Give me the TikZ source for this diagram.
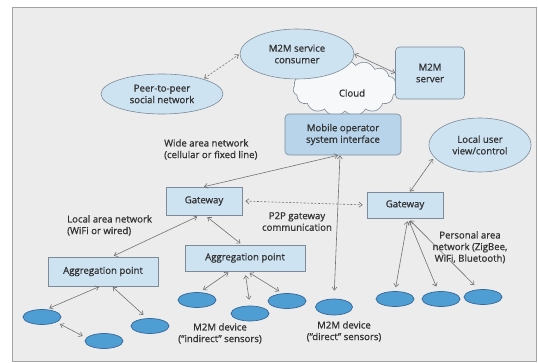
\documentclass[tikz,border=0pt]{standalone}
\usepackage{fontspec}
\setmainfont{Open Sans}[BoldFont={Open Sans}, BoldFeatures={FakeBold=0.9}]
\usetikzlibrary{arrows.meta,shapes.geometric,shapes.symbols}
\definecolor{bgpanel}{HTML}{ECECEC}
\definecolor{panelrule}{HTML}{A3A3A3}
\definecolor{boxfill}{HTML}{CDE3F2}
\definecolor{mobfill}{HTML}{B7D4EA}
\definecolor{boxrule}{HTML}{7D8B98}
\definecolor{devfill}{HTML}{4E9DD3}
\definecolor{devrule}{HTML}{35699A}
\definecolor{linkgray}{HTML}{727272}
\definecolor{txt}{HTML}{333333}
\definecolor{cloudfill}{HTML}{F6F8FA}
\tikzset{
  every node/.style={text=txt, font=\fontsize{9.6}{11.6}\selectfont\bfseries},
  sqbox/.style={rectangle, draw=boxrule, fill=boxfill, line width=0.6pt, inner sep=0pt},
  rbox/.style={sqbox, rounded corners=4pt},
  oval/.style={ellipse, draw=boxrule, fill=boxfill, line width=0.6pt, inner sep=0pt, align=center},
  device/.style={ellipse, draw=devrule, fill=devfill, line width=0.7pt, inner sep=0pt,
                 minimum width=38pt, minimum height=15pt},
  caption/.style={align=left, inner sep=0pt},
  tip/.tip={Straight Barb[length=3.2pt,width=5pt]},
  link/.style={draw=linkgray, line width=0.6pt, tip-tip},
  p2plink/.style={link, dash pattern=on 2pt off 1.6pt},
}
\begin{document}
\begin{tikzpicture}[x=1pt,y=-1pt]
\useasboundingbox (0,0) rectangle (538,363);
% panel
\draw[fill=bgpanel, draw=panelrule, line width=0.7pt] (12,7) rectangle (536,361);

% cloud behind the service side
\node[cloud, cloud puffs=15, cloud puff arc=110, aspect=2, draw=boxrule, fill=cloudfill,
      line width=0.6pt, minimum width=104pt, minimum height=56pt, inner sep=0pt] (cloud) at (345,88) {};
\node at (352,93) {Cloud};

% service side
\node[oval, minimum width=122pt, minimum height=40pt] (peer) at (162,94) {Peer-to-peer\\social network};
\node[oval, minimum width=114pt, minimum height=50pt] (consumer) at (297,54) {M2M service\\consumer};
\node[rbox, minimum width=69pt, minimum height=52pt, align=center] (server) at (430,73) {M2M\\server};
\node[rbox, fill=mobfill, minimum width=116pt, minimum height=41pt, align=center] (mob) at (343,134.5) {Mobile operator\\system interface};
\node[oval, minimum width=102pt, minimum height=54pt] (local) at (480,145) {Local user\\view/control};

% gateways and aggregation points
\node[sqbox, minimum width=76pt, minimum height=28pt] (gwL) at (204,201) {Gateway};
\node[sqbox, minimum width=76pt, minimum height=26pt] (gwR) at (405,205) {Gateway};
\node[sqbox, minimum width=110pt, minimum height=29pt] (aggL) at (103,271.5) {Aggregation point};
\node[sqbox, minimum width=120pt, minimum height=26pt] (aggM) at (245,258) {Aggregation point};

% devices
\node[device] (l1) at (42,317) {};
\node[device] (l2) at (104,341) {};
\node[device] (l3) at (150,326) {};
\node[device] (m1) at (197,300) {};
\node[device] (m2) at (250,313.5) {};
\node[device] (m3) at (287,301) {};
\node[device, minimum width=37pt, minimum height=16pt] (direct) at (334,307) {};
\node[device] (r1) at (395,299) {};
\node[device] (r2) at (441,299) {};
\node[device] (r3) at (483,297) {};

% captions
\node[caption, anchor=north west] (wan) at (164,139) {Wide area network\\(cellular or fixed line)};
\node[caption, anchor=north west] (lan) at (67,215) {Local area network\\(WiFi or wired)};
\node[caption, align=center, anchor=north] (p2p) at (297,212) {P2P gateway\\communication};
\node[caption, align=center, anchor=north] (pan) at (470,231) {Personal area\\network (ZigBee,\\WiFi, Bluetooth)};
\node[caption, align=center, anchor=north] (indirect) at (220,323) {M2M device\\(``indirect'' sensors)};
\node[caption, align=center, anchor=north] (directcap) at (344,321) {M2M device\\(``direct'' sensors)};

% connectors
\draw[p2plink, shorten <=1pt, shorten >=1pt] (peer.20) -- (consumer.west);
\draw[link] (consumer.east) -- (server.west);
\draw[link] ([xshift=-5pt]mob.south) -- (gwL.north);
\draw[link, shorten >=8pt] ([xshift=-3pt]mob.south) -- (direct.north);
\draw[link, shorten >=2pt] ([xshift=5pt]gwR.north) -- (local.195);
\draw[p2plink, shorten <=3pt, shorten >=4pt] (gwL.east) -- (gwR.west);

\draw[link, shorten <=3pt, shorten >=2pt] ([xshift=-4pt]gwL.south) -- ([xshift=9pt]aggL.north);
\draw[link, shorten <=3pt, shorten >=2pt] ([xshift=1pt]gwL.south) -- ([xshift=-3pt]aggM.north);

\draw[link, shorten <=1pt, shorten >=3pt] ([xshift=-3pt]aggL.south) -- (l1.60);
\draw[link, shorten <=1pt, shorten >=5pt] ([xshift=9pt]aggL.south) -- (l3.110);
\draw[link, shorten <=4pt, shorten >=4pt] (l1.-20) -- (l2.170);

\draw[link, shorten <=2pt, shorten >=4pt] ([xshift=-15pt]aggM.south) -- (m1.70);
\draw[link, shorten <=4pt, shorten >=6pt] ([xshift=0pt]aggM.south) -- (m2.north);
\draw[link, shorten <=3pt, shorten >=4pt] ([xshift=2pt]aggM.south) -- (m3.120);

\draw[link, shorten <=3pt, shorten >=4pt] ([xshift=3pt]gwR.south) -- (r1.north);
\draw[link, shorten <=3pt, shorten >=5pt] ([xshift=3pt]gwR.south) -- (r2.110);
\draw[link, shorten <=3pt, shorten >=6pt] ([xshift=3pt]gwR.south) -- (r3.120);
\end{tikzpicture}
\end{document}
